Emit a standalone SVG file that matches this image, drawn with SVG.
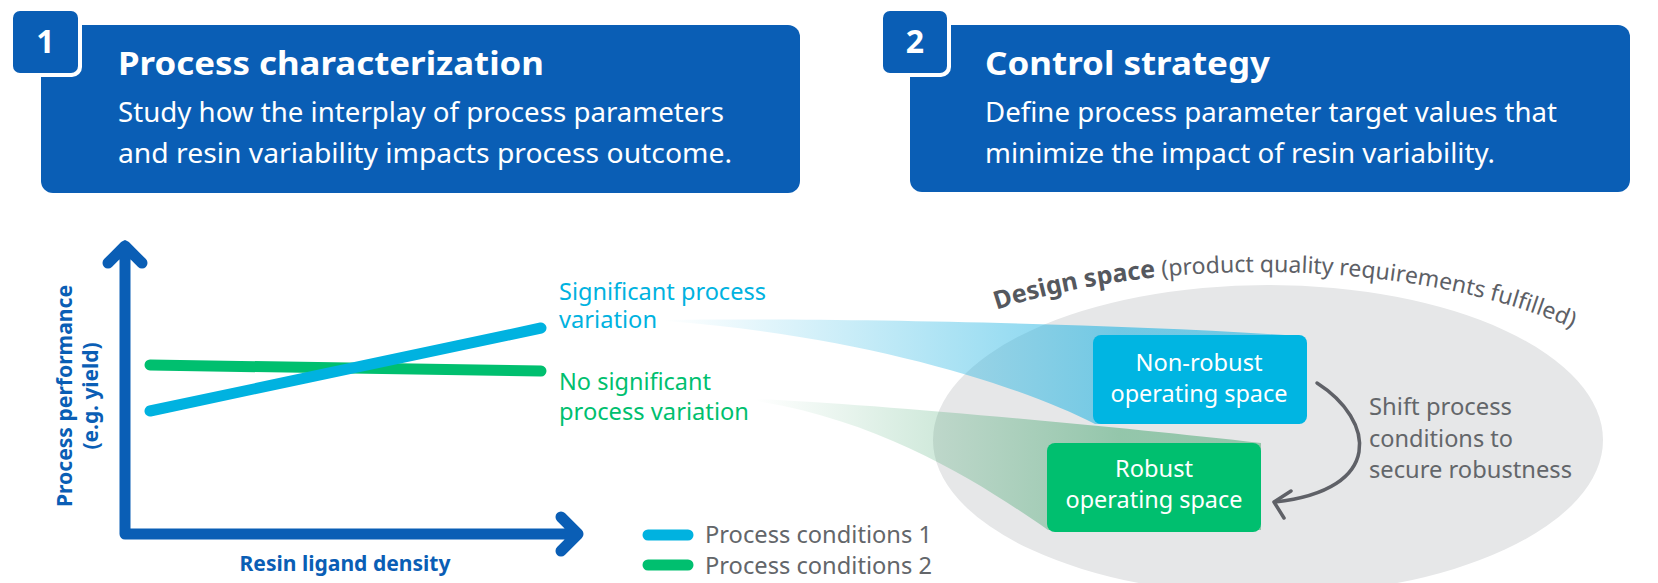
<svg xmlns="http://www.w3.org/2000/svg" width="1658" height="583" viewBox="0 0 1658 583">
<defs>
<style>
text{font-family:"Noto Sans","Liberation Sans",sans-serif;}
.hdr{fill:#0a5eb5;}
.ttl{fill:#fff;font-weight:bold;font-size:33px;}
.bdy{fill:#fff;font-size:28px;}
.num{fill:#fff;font-weight:bold;font-size:32px;text-anchor:middle;}
.axis{fill:none;stroke:#0a5eb5;stroke-width:11;stroke-linecap:round;stroke-linejoin:round;}
.axlbl{fill:#0a5eb5;font-weight:bold;font-size:21px;text-anchor:middle;}
.c1{stroke:#00b2e0;}
.c2{stroke:#00bf6f;}
.ln{fill:none;stroke-width:11;stroke-linecap:round;}
.t1{fill:#00b2e0;font-size:24px;}
.t2{fill:#00bf6f;font-size:24px;}
.gray{fill:#63666a;font-size:24px;}
.node{fill:#fff;font-size:24px;text-anchor:middle;}
</style>
<linearGradient id="gBlue" gradientUnits="userSpaceOnUse" x1="665" y1="0" x2="1120" y2="0">
<stop offset="0" stop-color="#22b4e2" stop-opacity="0"/>
<stop offset="1" stop-color="#22b4e2" stop-opacity="0.6"/>
</linearGradient>
<linearGradient id="gGreen" gradientUnits="userSpaceOnUse" x1="755" y1="0" x2="1120" y2="0">
<stop offset="0" stop-color="#2f9e60" stop-opacity="0"/>
<stop offset="1" stop-color="#2f9e60" stop-opacity="0.45"/>
</linearGradient>
<path id="dsArc" d="M930,337 A420,170 0 0 1 1660,390"/>
</defs>

<g id="header1">
<rect class="hdr" x="41" y="25" width="759" height="168" rx="12"/>
<rect x="9" y="7" width="73" height="70" rx="10" fill="#fff"/>
<rect class="hdr" x="13" y="11" width="65" height="62" rx="7"/>
<text class="num" x="45.5" y="53">1</text>
<text class="ttl" x="118" y="75" textLength="426" lengthAdjust="spacingAndGlyphs">Process characterization</text>
<text class="bdy" x="118" y="122" textLength="606" lengthAdjust="spacingAndGlyphs">Study how the interplay of process parameters</text>
<text class="bdy" x="118" y="163" textLength="614" lengthAdjust="spacingAndGlyphs">and resin variability impacts process outcome.</text>
</g>

<g id="header2">
<rect class="hdr" x="910" y="25" width="720" height="167" rx="12"/>
<rect x="879" y="7" width="72" height="70" rx="10" fill="#fff"/>
<rect class="hdr" x="883" y="11" width="64" height="62" rx="7"/>
<text class="num" x="915" y="53">2</text>
<text class="ttl" x="985" y="75" textLength="285" lengthAdjust="spacingAndGlyphs">Control strategy</text>
<text class="bdy" x="985" y="122" textLength="572" lengthAdjust="spacingAndGlyphs">Define process parameter target values that</text>
<text class="bdy" x="985" y="163" textLength="510" lengthAdjust="spacingAndGlyphs">minimize the impact of resin variability.</text>
</g>

<g id="chart">
<path class="axis" d="M125,534 L125,246 M108,263 L125,246 L142,263 M125,534 L578,534 M561,517 L578,534 L561,551"/>
<text class="axlbl" transform="translate(72,396) rotate(-90)" textLength="222" lengthAdjust="spacingAndGlyphs">Process performance</text>
<text class="axlbl" transform="translate(98,396) rotate(-90)" textLength="107" lengthAdjust="spacingAndGlyphs">(e.g. yield)</text>
<text class="axlbl" x="345" y="571" textLength="211" lengthAdjust="spacingAndGlyphs">Resin ligand density</text>
<line class="ln c2" x1="150" y1="365" x2="541" y2="371"/>
<line class="ln c1" x1="150" y1="411" x2="541" y2="328"/>
</g>

<g id="labels">
<text class="t1" x="559" y="300" textLength="207" lengthAdjust="spacingAndGlyphs">Significant process</text>
<text class="t1" x="559" y="328" textLength="98" lengthAdjust="spacingAndGlyphs">variation</text>
<text class="t2" x="559" y="390" textLength="152" lengthAdjust="spacingAndGlyphs">No significant</text>
<text class="t2" x="559" y="420" textLength="190" lengthAdjust="spacingAndGlyphs">process variation</text>
</g>

<g id="legend">
<line class="ln c1" x1="648" y1="535" x2="688" y2="535"/>
<line class="ln c2" x1="648" y1="565" x2="688" y2="565"/>
<text class="gray" x="705" y="543" textLength="227" lengthAdjust="spacingAndGlyphs">Process conditions 1</text>
<text class="gray" x="705" y="574" textLength="227" lengthAdjust="spacingAndGlyphs">Process conditions 2</text>
</g>

<g id="design-space">
<ellipse cx="1268" cy="440" rx="335" ry="155" fill="#e6e7e8"/>
<text font-size="23" fill="#5d6066"><textPath href="#dsArc" startOffset="72"><tspan font-weight="bold" font-size="25" fill="#55585e">Design space</tspan> (product quality requirements fulfilled)</textPath></text>
</g>

<g id="connectors">
<path d="M665,320 C800,318 1100,322 1300,336 L1300,424 L1095,424 C1020,385 860,335 665,321 Z" fill="url(#gBlue)"/>
<path d="M756,399 C860,403 1100,425 1261,443 L1261,530 L1048,530 C990,490 890,422 756,401 Z" fill="url(#gGreen)"/>
<path d="M1317,383 C1375,420 1385,490 1275,502" fill="none" stroke="#5f6167" stroke-width="3.5" stroke-linecap="round"/>
<polyline points="1291,491 1274,502 1284,518" fill="none" stroke="#5f6167" stroke-width="3.5" stroke-linecap="round" stroke-linejoin="round"/>
</g>

<g id="node-nonrobust">
<rect x="1093" y="335" width="214" height="89" rx="8" fill="#00b5e2"/>
<text class="node" x="1199" y="371" textLength="127" lengthAdjust="spacingAndGlyphs">Non-robust</text>
<text class="node" x="1199" y="402" textLength="177" lengthAdjust="spacingAndGlyphs">operating space</text>
</g>

<g id="node-robust">
<rect x="1047" y="443" width="214" height="89" rx="8" fill="#00bf6f"/>
<text class="node" x="1154" y="477" textLength="78" lengthAdjust="spacingAndGlyphs">Robust</text>
<text class="node" x="1154" y="508" textLength="177" lengthAdjust="spacingAndGlyphs">operating space</text>
</g>

<g id="shift-label">
<text class="gray" x="1369" y="415" textLength="143" lengthAdjust="spacingAndGlyphs">Shift process</text>
<text class="gray" x="1369" y="447" textLength="144" lengthAdjust="spacingAndGlyphs">conditions to</text>
<text class="gray" x="1369" y="478" textLength="203" lengthAdjust="spacingAndGlyphs">secure robustness</text>
</g>
</svg>
